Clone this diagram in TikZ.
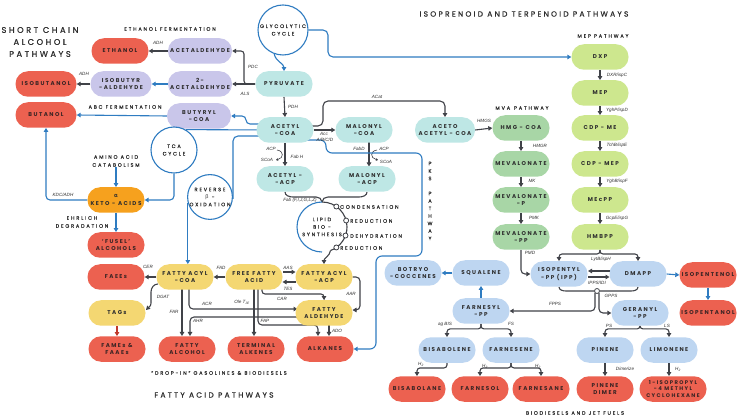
\documentclass[tikz,border=0pt]{standalone}
\usepackage{fontspec}
\setmainfont{Poppins}
\newfontfamily\nodefnt[LetterSpace=26]{Poppins}
\newfontfamily\titlefnt[LetterSpace=30,FakeBold=0.7]{Poppins}
\newfontfamily\subfnt[LetterSpace=36,FakeBold=0.6]{Poppins}
\newfontfamily\enzfnt{Liberation Sans}
\newfontfamily\grkfnt{Open Sans}
\usetikzlibrary{arrows.meta}
\pgfdeclarelayer{back}
\pgfdeclarelayer{bg}
\pgfsetlayers{back,bg,main}
\definecolor{cRed}{HTML}{EC6150}
\definecolor{cLav}{HTML}{C9C6EA}
\definecolor{cTeal}{HTML}{BEE7E5}
\definecolor{cMva}{HTML}{A8D6A6}
\definecolor{cMep}{HTML}{CDE78E}
\definecolor{cYel}{HTML}{F4D772}
\definecolor{cOra}{HTML}{F6A11E}
\definecolor{cLbl}{HTML}{BED6F1}
\definecolor{cBlue}{HTML}{2F7CC1}
\definecolor{cDark}{HTML}{404248}
\definecolor{cTxt}{HTML}{2E2E2E}
\definecolor{cRTxt}{HTML}{3A2424}
\definecolor{cRArr}{HTML}{C0392B}
\tikzset{
  pill/.style={rectangle, rounded corners=12.5pt, minimum height=25.5pt, minimum width=57pt, inner sep=0.5pt, align=center, font=\nodefnt\bfseries\fontsize{5.6}{7.2}\selectfont, text=cTxt},
  rnode/.style={pill, fill=cRed, text=cRTxt},
  lnode/.style={pill, fill=cLav},
  tnode/.style={pill, fill=cTeal},
  gnode/.style={pill, fill=cMva},
  mnode/.style={pill, fill=cMep},
  ynode/.style={pill, fill=cYel},
  onode/.style={pill, fill=cOra},
  bnode/.style={pill, fill=cLbl},
  cyc/.style={circle, draw=cBlue, line width=1.1pt, fill=white, inner sep=0pt, align=center, font=\subfnt\fontsize{5}{7.5}\selectfont, text=cTxt},
  subt/.style={font=\subfnt\fontsize{5}{8}\selectfont, text=cTxt, align=center, inner sep=0pt},
  ttl/.style={font=\titlefnt\fontsize{8.3}{12}\selectfont, text=cTxt, align=center, inner sep=0pt},
  enz/.style={font=\enzfnt\itshape\fontsize{4.6}{5}\selectfont, text=cTxt, inner sep=0pt},
  darr/.style={draw=cDark, line width=1.1pt, -{Triangle[length=4pt,width=4.5pt]}},
  barr/.style={draw=cBlue, line width=1.1pt, -{Triangle[length=4pt,width=4.5pt]}},
  dline/.style={draw=cDark, line width=1.1pt},
  bline/.style={draw=cBlue, line width=1.1pt},
  smallc/.style={circle, draw=cDark, fill=white, line width=0.8pt, minimum size=5pt, inner sep=0pt},
}
\begin{document}
\begin{tikzpicture}[x=1pt,y=-1pt]
\begin{pgfonlayer}{back}
\fill[white] (0,0) rectangle (741,419);
\end{pgfonlayer}
\useasboundingbox (0,0) rectangle (741,419);

% ---------- titles ----------
\node[ttl] (t1) at (40,42) {SHORT CHAIN\\ALCOHOL\\PATHWAYS};
\node[ttl, font=\titlefnt\fontsize{7.5}{9}\selectfont] (t3) at (524,14) {ISOPRENOID AND TERPENOID PATHWAYS};
\node[ttl, font=\titlefnt\fontsize{7.5}{9}\selectfont] (t2) at (214,395) {FATTY ACID PATHWAYS};
\node[subt] (s1) at (170,29) {ETHANOL FERMENTATION};
\node[subt] (s2) at (125,107) {ABC FERMENTATION};
\node[subt] (s3) at (116,161) {AMINO ACID\\CATABOLISM};
\node[subt] (s4) at (82,222) {EHRLICH\\DEGRADATION};
\node[subt] (s5) at (219,373) {“DROP-IN” GASOLINES \& BIODIESELS};
\node[subt] (s6) at (603,36) {MEP PATHWAY};
\node[subt] (s7) at (522,108) {MVA\, PATHWAY};
\node[subt] (s8) at (575,413) {BIODIESELS AND JET FUELS};
\node[subt, font=\subfnt\fontsize{5}{7.5}\selectfont] (s9) at (430,201) {P\\K\\S\\ \\P\\A\\T\\H\\W\\A\\Y};

% ---------- short chain alcohols ----------
\node[rnode] (ethanol) at (120,51) {ETHANOL};
\node[lnode, minimum width=64pt] (acetald) at (200,51) {ACETALDEHYDE};
\node[rnode, minimum width=61pt] (isobutanol) at (46,84) {ISOBUTANOL};
\node[lnode, minimum width=61pt] (isobutyr) at (121,84) {ISOBUTYR\\-ALDEHYDE};
\node[lnode, minimum width=64pt] (acet2) at (200,84) {2-\\ACETALDEHYDE};
\node[rnode, minimum width=61pt] (butanol) at (46,115) {BUTANOL};
\node[lnode, minimum width=64pt] (butyryl) at (199,116) {BUTYRYL\\-COA};

\node[cyc, minimum size=50pt] (glyc) at (283,30) {GLYCOLYTIC\\CYCLE};
\node[cyc, minimum size=46pt] (tca) at (174,150) {TCA\\CYCLE};
\node[cyc, minimum size=44pt] (rev) at (210,197) {REVERSE\\{\grkfnt β} -\\OXIDATION};

\node[onode] (keto) at (116,200) {{\grkfnt α}\\KETO - ACIDS};
\node[rnode] (fusel) at (116,245) {‘FUSEL’\\ALCOHOLS};

% ---------- central ----------
\node[tnode] (pyruvate) at (284,84) {PYRUVATE};
\node[tnode] (acetylcoa) at (285,130) {ACETYL\\-COA};
\node[tnode] (malonylcoa) at (364,130) {MALONYL\\-COA};
\node[tnode, minimum width=60pt] (aceto) at (445,130) {ACETO\\ACETYL - COA};
\node[tnode] (acetylacp) at (285,179) {ACETYL -\\-ACP};
\node[tnode] (malonylacp) at (367,179) {MALONYL\\-ACP};

\node[circle, minimum size=50pt, inner sep=0pt, outer sep=0pt, align=center, font=\subfnt\fontsize{5}{7.5}\selectfont, text=cTxt] (lipid) at (322,227) {LIPID\\BIO -\\SYNTHESIS};
\node[smallc] (c1) at (lipid.55) {};
\node[smallc] (c2) at (lipid.15) {};
\node[smallc] (c3) at (lipid.-20) {};
\node[smallc] (c4) at (lipid.-55) {};
\node[subt, anchor=west] (lc1) at (340,207) {CONDENSATION};
\node[subt, anchor=west] (lc2) at (350,221) {REDUCTION};
\node[subt, anchor=west] (lc3) at (350,236) {DEHYDRATION};
\node[subt, anchor=west] (lc4) at (340,248) {REDUCTION};

% ---------- fatty acids ----------
\node[rnode] (faees) at (116,277) {FAEEs};
\node[ynode] (tags) at (117,313) {TAGs};
\node[rnode] (fames) at (117,349) {FAMEs \&\\FAAEs};
\node[ynode] (facoa) at (185,277) {FATTY ACYL\\-COA};
\node[ynode] (ffa) at (254,277) {FREE\enspace FATTY\\ACID};
\node[ynode] (faacp) at (324,277) {FATTY ACYL\\-ACP};
\node[ynode] (fald) at (324,313) {FATTY\\ALDEHYDE};
\node[rnode] (falc) at (187,349) {FATTY\\ALCOHOL};
\node[rnode] (talk) at (256,349) {TERMINAL\\ALKENES};
\node[rnode] (alkanes) at (325,349) {ALKANES};

% ---------- isoprenoids ----------
\node[mnode] (dxp) at (600,57) {DXP};
\node[mnode] (mep) at (600,93) {MEP};
\node[mnode] (cdpme) at (600,128) {CDP - ME};
\node[mnode] (cdpmep) at (600,164) {CDP - MEP};
\node[mnode] (mecpp) at (600,200) {MEcPP};
\node[mnode] (hmbpp) at (600,237) {HMBPP};
\node[gnode] (hmg) at (521,128) {HMG - COA};
\node[gnode] (mev) at (521,164) {MEVALONATE};
\node[gnode] (mevp) at (521,200) {MEVALONATE\\-P};
\node[gnode] (mevpp) at (521,237) {MEVALONATE\\-PP};
\node[bnode] (ipp) at (559,274) {ISOPENTYL\\-PP (IPP)};
\node[bnode] (dmapp) at (638,274) {DMAPP};
\node[rnode] (isopentenol) at (708,275) {ISOPENTENOL};
\node[rnode] (isopentanol) at (708,313) {ISOPENTANOL};
\node[bnode] (squalene) at (481,273) {SQUALENE};
\node[bnode] (botryo) at (413,273) {BOTRYO\\-COCCENES};
\node[bnode] (farnesyl) at (481,311) {FARNESYL\\-PP};
\node[bnode] (geranyl) at (640,313) {GERANYL\\-PP};
\node[bnode] (bisabolene) at (447,350) {BISABOLENE};
\node[bnode] (farnesene) at (511,350) {FARNESENE};
\node[bnode] (pinene) at (605,350) {PINENE};
\node[bnode] (limonene) at (669,350) {LIMONENE};
\node[rnode] (bisabolane) at (417,389) {BISABOLANE};
\node[rnode] (farnesol) at (480,389) {FARNESOL};
\node[rnode] (farnesane) at (541,389) {FARNESANE};
\node[rnode] (pdimer) at (605,389) {PINENE\\DIMER};
\node[rnode, minimum width=67pt, font=\nodefnt\bfseries\fontsize{5.3}{6.2}\selectfont] (cyclo) at (673,389) {1-ISOPROPYL\\-4 METHYL\\CYCLOHEXANE};
\node[smallc] (gc) at (597,291) {};

% ---------- enzyme labels ----------
\node[enz] (e1) at (158,43) {ADH};
\node[enz] (e2) at (84,74) {ADH};
\node[enz] (e3) at (253,67) {PDC};
\node[enz] (e4) at (245,94) {ALS};
\node[enz] (e5) at (293,107) {PDH};
\node[enz] (e6) at (377,97) {ACat};
\node[enz] (e7) at (324,134) {Acc};
\node[enz] (e8) at (325,140) {A/B/C/D};
\node[enz] (e9) at (271,149) {ACP};
\node[enz] (e10) at (267,160) {SCoA};
\node[enz] (e11) at (297,157) {Fab H};
\node[enz] (e12) at (359,149) {FabD};
\node[enz] (e13) at (384,149) {ACP};
\node[enz] (e14) at (386,162) {SCoA};
\node[enz] (e15) at (300,200) {Fab (F,I,J,G,L,Z)};
\node[enz] (e16) at (484,121) {HMGS};
\node[enz] (e17) at (540,146) {HMGR};
\node[enz] (e18) at (532,181) {MK};
\node[enz] (e19) at (534,218) {PMK};
\node[enz] (e20) at (530,253) {PMD};
\node[enz] (e21) at (617,75) {DXR/ispC};
\node[enz] (e22) at (617,110) {YghP/ispD};
\node[enz] (e23) at (617,145) {TchB/ispE};
\node[enz] (e24) at (617,181) {YghB/ispF};
\node[enz] (e25) at (617,218) {GcpE/ispG};
\node[enz] (e26) at (601,259) {LytB/ispH};
\node[enz] (e27) at (597,283) {IPPS/IDI};
\node[enz] (e28) at (611,296) {GPPS};
\node[enz] (e29) at (555,304) {FPPS};
\node[enz] (e30) at (609,326) {PS};
\node[enz] (e31) at (667,326) {LS};
\node[enz] (e32) at (445,324) {ag BIS};
\node[enz] (e33) at (511,324) {FS};
\node[enz] (e34) at (421,364) {H\textsubscript{2}};
\node[enz] (e35) at (485,366) {H\textsubscript{2}};
\node[enz] (e36) at (538,366) {H\textsubscript{2}};
\node[enz] (e37) at (625,369) {Dimerize};
\node[enz] (e38) at (678,369) {H\textsubscript{2}};
\node[enz] (e39) at (63,195) {KDC/ADH};
\node[enz] (e40) at (148,267) {CER};
\node[enz] (e41) at (221,268) {FAD};
\node[enz] (e42) at (288,268) {AAS};
\node[enz] (e43) at (288,289) {TES};
\node[enz] (e44) at (163,297) {DGAT};
\node[enz] (e45) at (174,312) {FAR};
\node[enz] (e46) at (207,304) {ACR};
\node[enz] (e47) at (198,321) {AHR};
\node[enz] (e48) at (242,302) {Ole T\textsubscript{JE}};
\node[enz] (e49) at (282,299) {CAR};
\node[enz] (e50) at (351,294) {AAR};
\node[enz] (e51) at (265,321) {FAP};
\node[enz] (e52) at (337,331) {ADO};

% ---------- connectors ----------
\begin{pgfonlayer}{bg}
\draw[darr, rounded corners=3pt] (pyruvate.west) -- (244,84) |- (acetald.east);
\draw[darr] (pyruvate.west) -- (acet2.east);
\draw[darr] (acetald.west) -- (ethanol.east);
\draw[barr] (acet2.west) -- (isobutyr.east);
\draw[darr] (isobutyr.west) -- (isobutanol.east);
\draw[barr] (butyryl.west) -- (butanol.east);
\draw[barr] (glyc.250) to[out=-80,in=90] (pyruvate.north);
\draw[barr, rounded corners=5pt] (glyc.east) -- (328,30) -- (328,57) -- (dxp.west);
\draw[darr] (pyruvate.south) -- (acetylcoa.north);
\draw[barr, rounded corners=4pt] (270,124) -- (246,124) -- (246,116) -- (butyryl.east);
\draw[bline] (270,130) -- (tca.60);
\draw[bline, rounded corners=5pt] (270,136) -- (233,136) -- (233,199);
\draw[barr] (rev.195) -- (rev.195 |- facoa.north);
\draw[barr, rounded corners=4pt] (tca.south) |- (keto.east);
\draw[barr, rounded corners=4pt] (keto.west) -| (butanol.south);
\draw[barr] (s3.south) -- (keto.north);
\draw[barr] (keto.south) -- (fusel.north);

\draw[darr] (acetylcoa.east) -- (malonylcoa.west);
\draw[darr, rounded corners=5pt] (305,126) -- (323,126) -- (323,101) -- (445,101) -- (aceto.north);
\draw[darr] (acetylcoa.south) -- (acetylacp.north);
\draw[darr] (369,140) -- (369,166.5);
\draw[draw=cDark, line width=0.6pt, -{Triangle[length=2pt,width=2.5pt]}] (277,150) .. controls (284,151) and (284,158) .. (276,160);
\draw[draw=cDark, line width=0.6pt, -{Triangle[length=2pt,width=2.5pt]}] (377,150) .. controls (370,151) and (370,158) .. (378,160);
\draw[barr, rounded corners=6pt] (300,140) -- (326,140) -- (326,153) -- (422,153) -- (422,256) -- (376,256) -- (376,349) -- (alkanes.east);

\draw[dline] (acetylacp.south) to[out=-90,in=180] (293,197) -- (316,197) to[out=0,in=90] (lipid.90);
\draw[dline] (malonylacp.south) to[out=-90,in=0] (359,197) -- (328,197) to[out=180,in=90] (lipid.90);
\draw[dline] (lipid.90) arc[start angle=90, end angle=-70, radius=25pt];
\draw[bline] (lipid.90) arc[start angle=90, end angle=270, radius=25pt];
\draw[darr] (lipid.-70) to[out=-100,in=90] (faacp.north);

\draw[darr] (ffa.west) -- (facoa.east);
\draw[darr] (283,272) -- (295.5,272);
\draw[darr] (295.5,282) -- (282.5,282);
\draw[darr] (facoa.west) -- (faees.east);
\draw[darr] (158,284) to[out=180,in=90] (151,292) -- (151,303) to[out=-90,in=45] (146,310);
\draw[draw=cRArr, line width=1.1pt, -{Triangle[length=4pt,width=4.5pt]}] (tags.south) -- (fames.north);
\draw[darr] (182,289) -- (182,336);
\draw[darr, rounded corners=4pt] (189,289) -- (189,309) -- (297.5,309);
\draw[darr, rounded corners=4pt] (300,317) -- (190,317) -- (190,336);
\draw[darr] (254,289) -- (254,336);
\draw[darr, rounded corners=4pt] (258,289) -- (258,325) -- (318,325) -- (318,336);
\draw[darr, rounded corners=3pt] (262,289) -- (262,294) -- (324,294) -- (fald.north);
\draw[darr] (329,325) -- (329,336);
\draw[darr, rounded corners=4pt] (faacp.east) -- (360,277) -- (360,310) -- (352.5,310);

\draw[darr] (aceto.east) -- (hmg.west);
\draw[darr] (hmg.south) -- (mev.north);
\draw[darr] (mev.south) -- (mevp.north);
\draw[darr] (mevp.south) -- (mevpp.north);
\draw[darr] (dxp.south) -- (mep.north);
\draw[darr] (mep.south) -- (cdpme.north);
\draw[darr] (cdpme.south) -- (cdpmep.north);
\draw[darr] (cdpmep.south) -- (mecpp.north);
\draw[darr] (mecpp.south) -- (hmbpp.north);
\draw[darr, rounded corners=4pt] (mevpp.south) |- (ipp.west);
\draw[darr, rounded corners=3pt] (hmbpp.south) -- (600,254) -| (ipp.north);
\draw[darr, rounded corners=3pt] (hmbpp.south) -- (600,254) -| (dmapp.north);
\draw[darr] (609.5,271) -- (588,271);
\draw[darr] (588,277) -- (609.5,277);
\draw[dline] (ipp.south) to[out=-90,in=180] (566,291) -- (gc.west);
\draw[dline] (dmapp.south) to[out=-90,in=0] (631,291) -- (gc.east);
\draw[darr, rounded corners=4pt] (595,293) -- (595,311) -- (farnesyl.east);
\draw[darr, rounded corners=4pt] (599,293) -- (599,313) -- (geranyl.west);
\draw[barr] (dmapp.east) -- (isopentenol.west);
\draw[barr] (isopentenol.south) -- (isopentanol.north);
\draw[barr] (farnesyl.north) -- (squalene.south);
\draw[barr] (squalene.west) -- (botryo.east);
\draw[darr, rounded corners=3pt] (farnesyl.south) -- ++(0,5) -| (bisabolene.north);
\draw[darr, rounded corners=3pt] (farnesyl.south) -- ++(0,5) -| (farnesene.north);
\draw[darr, rounded corners=3pt] (geranyl.south) -- ++(0,3) -| (pinene.north);
\draw[darr, rounded corners=3pt] (geranyl.south) -- ++(0,3) -| (limonene.north);
\draw[darr, rounded corners=3pt] (bisabolene.south) -- ++(0,5) -| (bisabolane.north);
\draw[darr, rounded corners=3pt] (farnesene.south) -- ++(0,5) -| (farnesol.north);
\draw[darr, rounded corners=3pt] (farnesene.south) -- ++(0,5) -| (farnesane.north);
\draw[darr] (pinene.south) -- (pdimer.north);
\draw[darr] (limonene.south) -- (limonene.south |- cyclo.north);
\end{pgfonlayer}
\end{tikzpicture}
\end{document}
